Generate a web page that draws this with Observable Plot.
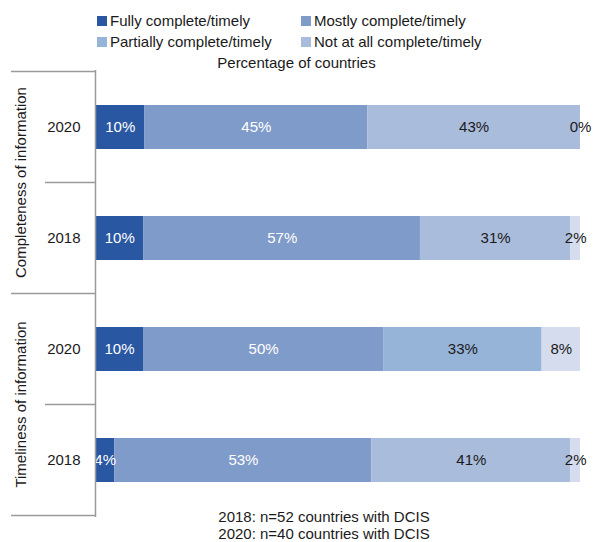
<!DOCTYPE html>
<html>
<head>
<meta charset="utf-8">
<script src="https://cdn.jsdelivr.net/npm/d3@7"></script>
<script src="https://cdn.jsdelivr.net/npm/@observablehq/plot@0.6"></script>
<style>
  html, body { margin: 0; padding: 0; background: #fff; }
  body { font-family: "Liberation Sans", Arial, Helvetica, sans-serif; color: #1a1a1a; }
  #wrap { position: relative; width: 593px; height: 542px; overflow: hidden; }
  .abs { position: absolute; font-size: 15px; line-height: 18px; white-space: nowrap; }
  .sw { position: absolute; width: 10px; height: 10px; }
  #chart { position: absolute; left: 0; top: 66px; }
</style>
</head>
<body>
<div id="wrap">
  <div id="legend"></div>
  <div class="abs" style="left:0;width:593px;text-align:center;top:54px;">Percentage of countries</div>
  <div id="chart"></div>
  <div class="abs" style="left:324px;top:508px;line-height:17px;transform:translateX(-50%);text-align:left;">2018: n=52 countries with DCIS<br>2020: n=40 countries with DCIS</div>
</div>
<script>
// ---- data ----
const rows = ["Completeness 2020", "Completeness 2018", "Timeliness 2020", "Timeliness 2018"];
const years = ["2020", "2018", "2020", "2018"];
const groups = ["Completeness of information", "Timeliness of information"];
const categories = ["Fully complete/timely", "Mostly complete/timely", "Partially complete/timely", "Not at all complete/timely"];
const fully = [10, 10, 10, 4];
const mostly = [45, 57, 50, 53];
const partially = [43, 31, 33, 41];
const notAtAll = [0, 2, 8, 2];
// shade keys used for each segment (as drawn in the original)
const partiallyShade = ["s4", "s4", "s3", "s4"];
const shades = ["s1", "s2", "s3", "s4", "s5", "textLight", "textDark"];
const palette = ["#2a57a2", "#7f9bc9", "#96b3d8", "#aabcdc", "#d4dcee", "#ffffff", "#1a1a1a"];
const legendShades = ["s1", "s2", "s3", "s4"];

const data = [];
rows.forEach((r, i) => {
  data.push({row: r, idx: 0, shade: "s1", value: fully[i]});
  data.push({row: r, idx: 1, shade: "s2", value: mostly[i]});
  data.push({row: r, idx: 2, shade: partiallyShade[i], value: partially[i]});
  data.push({row: r, idx: 3, shade: "s5", value: notAtAll[i]});
});

// ---- legend ----
const legend = document.getElementById("legend");
const colorOf = k => palette[shades.indexOf(k)];
const legPos = [[97, 110, 16], [301, 314, 16], [97, 110, 37], [301, 314, 37]];
categories.forEach((c, i) => {
  const [sx, tx, sy] = legPos[i];
  const sw = document.createElement("div");
  sw.className = "sw";
  sw.style.left = sx + "px"; sw.style.top = sy + "px";
  sw.style.background = colorOf(legendShades[i]);
  legend.appendChild(sw);
  const t = document.createElement("div");
  t.className = "abs";
  t.style.left = tx + "px"; t.style.top = (sy + 5 - 9) + "px";
  t.textContent = c;
  legend.appendChild(t);
});

// ---- chart ----
const stackOpts = {offset: "normalize", x: "value", y: "row"};
const plot = Plot.plot({
  width: 593,
  height: 456,
  marginLeft: 95,
  marginRight: 13,
  marginTop: 4,
  marginBottom: 5,
  style: {fontFamily: "Liberation Sans, Arial, sans-serif", fontSize: "15px", color: "#1a1a1a", background: "transparent"},
  x: {axis: null, domain: [0, 1]},
  y: {domain: rows, axis: null, label: null, paddingInner: 0.6, paddingOuter: 0.3},
  color: {domain: shades, range: palette},
  marks: [
    Plot.barX(data, Plot.stackX({...stackOpts, fill: "shade"})),
    Plot.text(data, Plot.stackX({...stackOpts, text: d => d.value + "%", fill: d => d.idx < 2 ? "textLight" : "textDark", fontSize: 15})),
    Plot.ruleX([0], {stroke: "#9a9a9a", strokeWidth: 1.5}),
    Plot.axisY({tickSize: 0, tickPadding: 15, label: null, tickFormat: d => years[rows.indexOf(d)], fontSize: 15, fill: "#1a1a1a"})
  ]
});
document.getElementById("chart").appendChild(plot);

// bracket lines and group labels, positioned from the plot's own y scale
const ys = plot.scale("y");
const xs = plot.scale("x");
const x0 = xs.apply(0);
const step = ys.step, bw = ys.bandwidth;
const top0 = ys.apply(rows[0]) - (step - bw) / 2;
const svg = d3.select(plot);
const g = svg.append("g").attr("stroke", "#9a9a9a").attr("stroke-width", 1.5);
for (let k = 0; k <= rows.length; k++) {
  const y = top0 + k * step;
  g.append("line").attr("x1", k % 2 === 0 ? 11 : 45).attr("x2", x0).attr("y1", y).attr("y2", y);
}
groups.forEach((name, j) => {
  const yc = top0 + (2 * j + 1) * step;
  svg.append("text")
    .attr("transform", `translate(26,${yc}) rotate(-90)`)
    .attr("text-anchor", "middle")
    .attr("fill", "#1a1a1a")
    .attr("font-size", 15)
    .text(name);
});
</script>
</body>
</html>
